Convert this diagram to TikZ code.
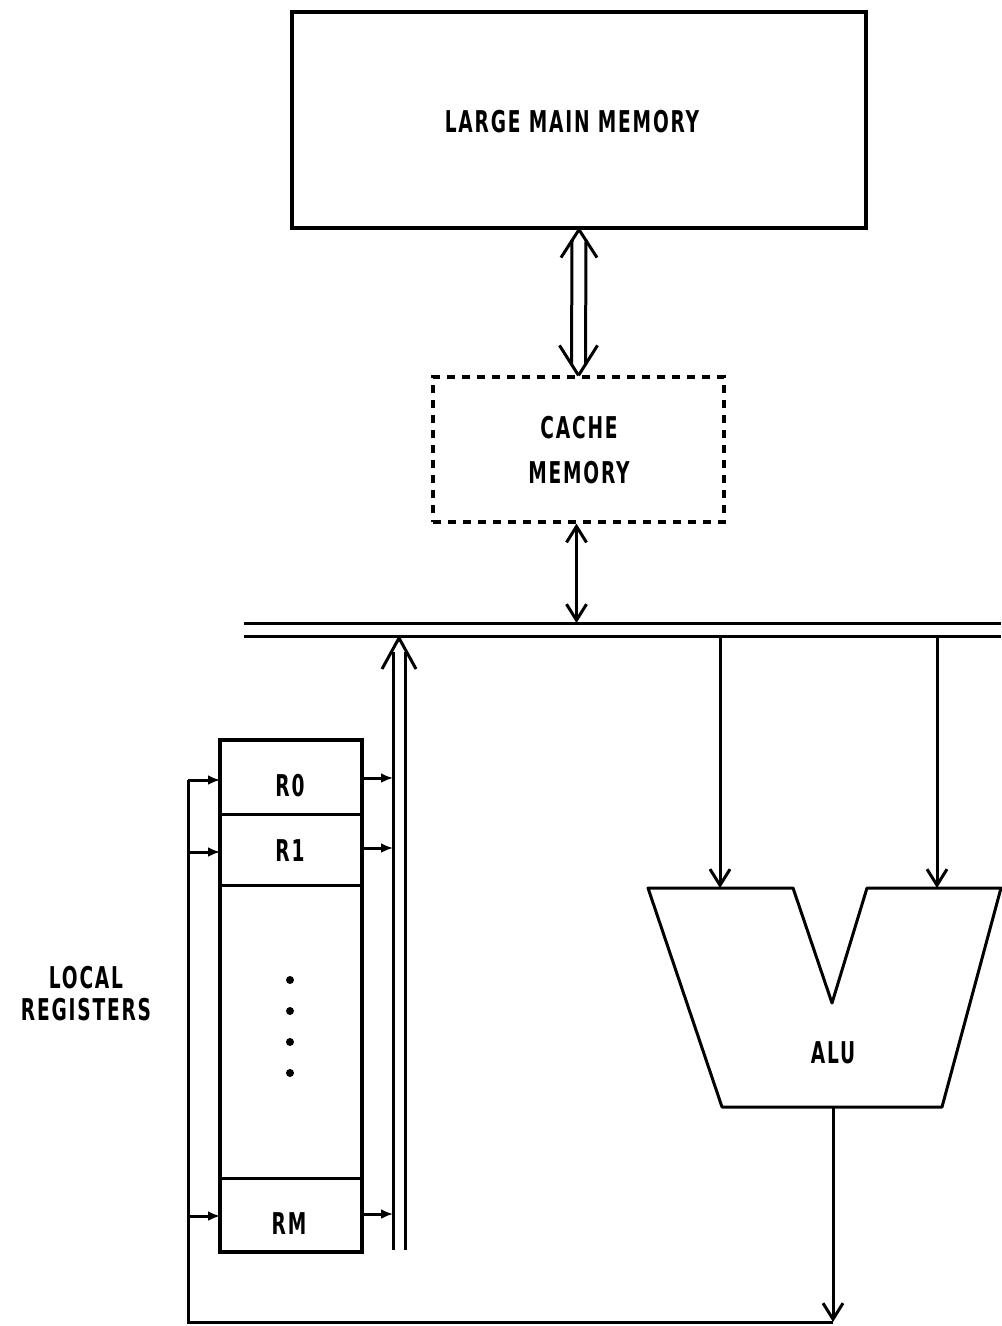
\documentclass[tikz,border=0pt]{standalone}
\usepackage{fontspec}
\newfontfamily\lblfont[FakeStretch=0.62, LetterSpace=6]{DejaVu Sans}
\usepackage{tikz}
\usetikzlibrary{calc, positioning, arrows.meta}

\begin{document}
\begin{tikzpicture}[
    x=0.5pt, y=-0.5pt,
    line width=1.5pt,
    lbl/.style={font=\lblfont\bfseries\fontsize{15}{22.5}\selectfont, align=center, inner sep=0pt},
    membox/.style={draw, line width=1.6pt, minimum width=287pt, minimum height=108pt},
    cachebox/.style={draw, line width=1.6pt, dash pattern=on 4pt off 3.5pt,
                     minimum width=145.5pt, minimum height=72.5pt},
    regbox/.style={draw, line width=1.6pt, minimum width=71pt, minimum height=256pt},
    barb/.style={-{Straight Barb[length=8pt, width=10pt]}},
    dbarb/.style={{Straight Barb[length=8pt, width=10pt]}-{Straight Barb[length=8pt, width=10pt]}},
    fill arr/.style={-{Latex[length=6pt, width=5pt]}},
    dotmark/.style={circle, fill, inner sep=0pt, minimum size=4pt}
]
\useasboundingbox (0,0) rectangle (1001,1326);

% memories
\node[membox] (mem) at (579,120) {};
\node[lbl] at (572,122) {LARGE MAIN MEMORY};

\node[cachebox] (cache) at (578.5,449.5) {};
\node[lbl] at (579,450) {CACHE\\MEMORY};

% hollow double arrow main memory <-> cache
\draw (mem.south) -- ++(-18,28);
\draw (mem.south) -- ++(18,28);
\draw ([shift={(-7,10)}]mem.south) -- ([shift={(-7,-10)}]cache.north);
\draw ([shift={(7,10)}]mem.south) -- ([shift={(7,-10)}]cache.north);
\draw (cache.north) -- ++(-19,-30);
\draw (cache.north) -- ++(19,-30);

% bus
\coordinate (busa) at (244,623);
\coordinate (busb) at (244,636);
\draw (busa) -- (1001,623);
\draw (busb) -- (1001,636);

\draw[dbarb] ([xshift=-1pt]cache.south) -- ([xshift=-1pt]cache.south |- busa);

% local registers
\node[regbox] (regs) at (291,996) {};
\draw (220,814) -- (362,814);
\draw (220,885) -- (362,885);
\draw (220,1178) -- (362,1178);
\node[lbl] (r0) at (290,786) {R0};
\node[lbl] (r1) at (290,851) {R1};
\node[lbl] (rm) at (289,1224) {RM};
\foreach \yy in {980,1011,1042,1073}
  \node[dotmark] at (290,\yy) {};

\node[lbl, font=\lblfont\bfseries\fontsize{15}{16}\selectfont] (loc) at (86,994) {LOCAL\\REGISTERS};

% register outputs up to the bus
\coordinate (rbl) at (393,1250);
\coordinate (rbr) at (405,1250);
\coordinate (rtop) at (399,638);
\draw (rbl) -- (393,652);
\draw (rbr) -- (405,652);
\draw (rtop) -- ++(-17,31);
\draw (rtop) -- ++(17,31);
\draw[fill arr] (362,778) -- (rbl |- 0,778);
\draw[fill arr] (362,848) -- (rbl |- 0,848);
\draw[fill arr] (362,1214) -- (rbl |- 0,1214);

% ALU
\coordinate (atl) at (648,888);
\coordinate (ati) at (793,888);
\coordinate (av) at (832,1003);
\coordinate (atj) at (867,888);
\coordinate (atr) at (1001,888);
\coordinate (abr) at (942,1107);
\coordinate (abl) at (722,1107);
\draw[line join=round] (atl) -- (ati) -- (av) -- (atj) -- (atr) -- (abr) -- (abl) -- cycle;
\node[lbl] (alu) at (833,1053) {ALU};

\draw[barb] (720,636) -- (720,888);
\draw[barb] (937,636) -- (937,888);

% ALU result back to the registers
\coordinate (out) at (833,1107);
\coordinate (fb) at (188,1322);
\draw[barb] (out) -- (out |- fb);
\draw (out |- fb) -- (fb) -- (188,780);
\draw[fill arr] (188,780) -- (220,780);
\draw[fill arr] (188,852) -- (220,852);
\draw[fill arr] (188,1216) -- (220,1216);

\end{tikzpicture}
\end{document}
